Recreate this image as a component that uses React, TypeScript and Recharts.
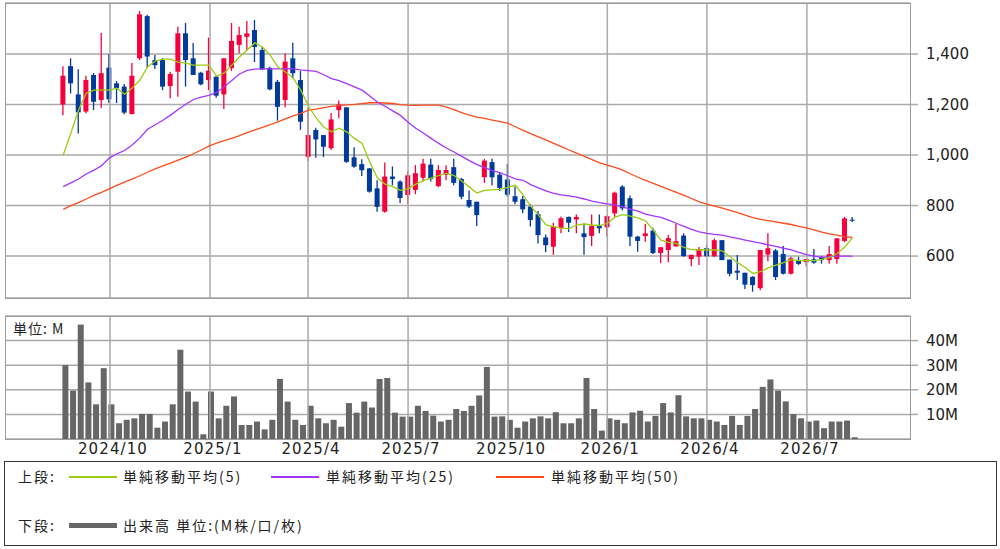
import React from 'react';
import {
  ComposedChart,
  Bar,
  Line,
  XAxis,
  YAxis,
  CartesianGrid,
  ReferenceLine,
} from 'recharts';

// weekly candles, oldest first (index 0 = first week shown)
const opens = [
  1200, 1352, 1240, 1172, 1317, 1218, 1346, 1284, 1271, 1162,
  1383, 1550, 1376, 1376, 1273, 1330, 1482, 1383, 1326, 1297,
  1310, 1240, 1344, 1436, 1468, 1495, 1416, 1345, 1290, 1218,
  1383, 1297, 993, 1099, 1079, 1027, 1178, 1189, 991, 964,
  947, 868, 776, 915, 895, 842, 862, 910, 962, 877,
  922, 952, 905, 822, 815, 912, 972, 922, 903, 837,
  825, 796, 766, 674, 637, 710, 755, 745, 690, 680,
  720, 714, 769, 875, 829, 677, 679, 701, 612, 624,
  638, 681, 588, 598, 631, 599, 663, 586, 542, 534,
  518, 473, 606, 622, 608, 530, 585, 576, 587, 596,
  584, 588, 660, 744,
];
const highs = [
  1352, 1383, 1340, 1314, 1325, 1483, 1400, 1293, 1281, 1364,
  1570, 1555, 1396, 1384, 1330, 1508, 1523, 1444, 1330, 1465,
  1313, 1383, 1523, 1508, 1531, 1535, 1428, 1350, 1297, 1403,
  1445, 1333, 1186, 1108, 1080, 1166, 1216, 1189, 1031, 983,
  949, 900, 970, 955, 900, 935, 960, 985, 985, 960,
  960, 985, 910, 860, 815, 985, 985, 930, 965, 875,
  838, 805, 778, 685, 732, 757, 757, 765, 730, 765,
  765, 762, 855, 880, 840, 680, 727, 712, 635, 683,
  727, 690, 605, 636, 645, 670, 663, 586, 604, 534,
  520, 624, 690, 628, 640, 597, 597, 588, 628, 600,
  640, 672, 755, 755,
];
const lows = [
  1158, 1244, 1085, 1165, 1178, 1186, 1206, 1206, 1162, 1162,
  1376, 1345, 1341, 1257, 1225, 1231, 1271, 1317, 1276, 1257,
  1227, 1182, 1333, 1403, 1416, 1368, 1337, 1257, 1136, 1189,
  1304, 1100, 976, 989, 992, 1020, 1146, 969, 950, 917,
  851, 775, 772, 880, 810, 805, 845, 895, 895, 873,
  900, 880, 825, 790, 719, 890, 880, 858, 835, 805,
  770, 717, 650, 615, 605, 690, 695, 690, 605, 640,
  690, 677, 755, 780, 640, 617, 657, 608, 572, 576,
  638, 597, 560, 565, 597, 597, 584, 520, 505, 470,
  459, 465, 580, 505, 527, 527, 565, 560, 570, 570,
  570, 570, 655, 735,
];
const closes = [
  1314, 1284, 1169, 1297, 1211, 1324, 1221, 1264, 1168, 1314,
  1557, 1390, 1356, 1271, 1321, 1482, 1376, 1317, 1280, 1334,
  1235, 1383, 1452, 1475, 1482, 1428, 1339, 1260, 1191, 1370,
  1324, 1132, 1079, 1062, 1033, 1141, 1200, 973, 954, 940,
  855, 795, 915, 905, 830, 920, 928, 966, 905, 941,
  941, 890, 835, 796, 762, 978, 912, 870, 843, 815,
  785, 743, 683, 643, 718, 750, 732, 755, 675, 720,
  710, 758, 851, 789, 677, 660, 690, 612, 635, 671,
  659, 600, 605, 628, 599, 663, 584, 530, 534, 487,
  485, 624, 631, 517, 530, 591, 569, 588, 574, 584,
  608, 670, 749, 743,
];
// volume in millions of shares
const volumes = [
  30, 19.7, 46.5, 23, 14.1, 28.8, 14.1, 6.4, 7.8, 8.4,
  10.2, 10.2, 4.6, 7.1, 14.1, 36.3, 19.3, 15.2, 1.9, 19.3,
  8.4, 13.5, 17.3, 5.7, 5.7, 7.1, 3.9, 7.8, 24.4, 15.2,
  7.8, 5.7, 13.5, 8.4, 6.4, 7.8, 5, 14.6, 10.7, 15.2,
  12.8, 24.4, 24.8, 10.7, 9.1, 9.1, 13.5, 11.4, 9.5, 7.1,
  7.8, 12.2, 11.4, 13.5, 17.7, 29.3, 9.1, 9.2, 7.8, 4.6,
  7.1, 8.4, 9.2, 8.4, 10.9, 6.4, 6.4, 8.4, 24.8, 12.2,
  3.4, 8.4, 7.8, 6.4, 10.8, 11.5, 7.1, 9.4, 14.6, 10.8,
  17.8, 9.2, 8.4, 8.4, 7.8, 7.1, 5.7, 9.4, 5.7, 9.4,
  12.2, 21.2, 24.2, 19.7, 15.3, 10.1, 8.4, 7.1, 7.5, 4.4,
  7.1, 7.1, 7.5, 0.7,
];
const ma5 = [
  1000, 1087, 1178, 1245, 1257, 1257, 1257, 1265, 1241, 1265,
  1297, 1349, 1372, 1380, 1380, 1368, 1364, 1356, 1356, 1356,
  1313, 1325, 1356, 1388, 1416, 1444, 1428, 1396, 1349, 1329,
  1305, 1257, 1194, 1147, 1111, 1092, 1106, 1092, 1066, 1046,
  972, 909, 885, 875, 860, 866, 885, 899, 909, 919,
  927, 919, 897, 873, 850, 860, 862, 864, 872, 880,
  842, 798, 763, 723, 717, 711, 709, 723, 727, 723,
  721, 729, 754, 764, 758, 751, 739, 703, 663, 654,
  650, 634, 626, 624, 624, 624, 621, 598, 574, 555,
  531, 538, 553, 564, 574, 586, 582, 582, 582, 587,
  594, 610, 636, 673,
];
const ma25 = [
  875, 890, 905, 925, 940, 958, 988, 1005, 1018, 1040,
  1068, 1102, 1120, 1138, 1158, 1180, 1201, 1220, 1229, 1236,
  1248, 1270, 1295, 1321, 1335, 1340, 1341, 1341, 1341, 1342,
  1341, 1337, 1334, 1331, 1318, 1303, 1295, 1283, 1270, 1257,
  1234, 1210, 1193, 1175, 1157, 1130, 1106, 1087, 1066, 1046,
  1028, 1012, 995, 978, 962, 950, 938, 930, 918, 906,
  900, 883, 870, 858, 848, 842, 838, 833, 826, 818,
  812, 807, 803, 795, 786, 778, 766, 759, 753, 742,
  730, 718, 706, 696, 690, 686, 683, 676, 670, 663,
  657, 651, 644, 638, 631, 625, 615, 606, 600, 595,
  598, 600, 600, 600,
];
const ma50 = [
  785, 800, 812, 826, 840, 852, 866, 880, 893, 905,
  918, 932, 945, 957, 968, 980, 992, 1005, 1020, 1035,
  1047, 1057, 1066, 1077, 1089, 1100, 1110, 1120, 1131, 1143,
  1155, 1165, 1178, 1182, 1188, 1193, 1196, 1199, 1201, 1204,
  1207, 1207, 1206, 1204, 1200, 1198, 1197, 1198, 1198, 1198,
  1190, 1180, 1168, 1158, 1150, 1145, 1138, 1132, 1126, 1112,
  1098, 1085, 1072, 1060, 1046, 1033, 1020, 1008, 995, 982,
  969, 960, 951, 940, 926, 912, 900, 888, 876, 864,
  852, 840, 828, 815, 806, 798, 790, 781, 772, 762,
  752, 745, 740, 735, 730, 725, 718, 712, 704, 695,
  688, 683, 676, 674,
];

// quarter starts, expressed as fractional week index
const quarterPos = [6.1, 19.15, 31.95, 45, 58.05, 71, 84, 97.05];
const quarterLabels = ['2024/10', '2025/1', '2025/4', '2025/7', '2025/10', '2026/1', '2026/4', '2026/7'];
const priceTicks = [600, 800, 1000, 1200, 1400];
const volumeTicks = [10, 20, 30, 40];

const rows = opens.map((o, i) => ({
  i,
  open: o,
  high: highs[i],
  low: lows[i],
  close: closes[i],
  range: [lows[i], highs[i]],
  vol: volumes[i],
  ma5: ma5[i],
  ma25: ma25[i],
  ma50: ma50[i],
}));

const RED = '#f5003d';
const BLUE = '#003a9a';
const GRID = '#aaaaaa';
const X_DOMAIN: [number, number] = [-7.6, 110.5];
const NUM_FONT = '"DejaVu Sans", Verdana, sans-serif';
const JP_FONT = '"Noto Sans CJK JP", "DejaVu Sans", sans-serif';

function Candle(props: any) {
  const { x, y, width, height, payload } = props;
  if (!payload) return null;
  const { open, close, high, low } = payload;
  const top = Math.min(y, y + height);
  const h = Math.abs(height);
  const k = high === low ? 0 : h / (high - low);
  const yOf = (v: number) => top + (high - v) * k;
  const color = close > open ? RED : BLUE;
  const cx = x + width / 2;
  const bodyTop = yOf(Math.max(open, close));
  const bodyH = Math.max(1, Math.abs(yOf(open) - yOf(close)));
  return (
    <g>
      <line x1={cx} x2={cx} y1={top} y2={top + h} stroke={color} strokeWidth={1.3} />
      <rect x={x} y={bodyTop} width={width} height={bodyH} fill={color} />
    </g>
  );
}

// volume bar sits a little to the right of its candle
function VolBar(props: any) {
  const { x, y, width, height } = props;
  const top = Math.min(y, y + height);
  return <rect x={x + 2} y={top} width={width} height={Math.abs(height)} fill="#666666" />;
}

const frame = (left: number, top: number, w: number, h: number): React.CSSProperties => ({
  position: 'absolute',
  left,
  top,
  width: w,
  height: h,
  border: '1.5px solid #9c9c9c',
  boxSizing: 'border-box',
  pointerEvents: 'none',
});

const legendText: React.CSSProperties = { position: 'absolute', letterSpacing: 2, whiteSpace: 'nowrap' };

export default function App() {
  const yTick = { fill: '#222', fontSize: 15, fontFamily: NUM_FONT };
  return (
    <div style={{ position: 'absolute', left: 0, top: 0, width: 1000, height: 549, background: '#fff' }}>
      {/* price panel */}
      <div style={{ position: 'absolute', left: 0, top: 0 }}>
        <ComposedChart width={1000} height={300} data={rows} margin={{ top: 3, right: 0, bottom: 2, left: 5 }}>
          <CartesianGrid vertical={false} stroke={GRID} strokeWidth={1.5} />
          <XAxis type="number" dataKey="i" domain={X_DOMAIN} allowDataOverflow hide />
          <YAxis
            orientation="right"
            width={90}
            domain={[434, 1602]}
            allowDataOverflow
            ticks={priceTicks}
            tickFormatter={(v: number) => v.toLocaleString('en-US')}
            tick={yTick}
            tickSize={8}
            tickMargin={8}
            tickLine={{ stroke: GRID, strokeWidth: 1.5 }}
            axisLine={false}
          />
          {quarterPos.map((q) => (
            <ReferenceLine key={q} x={q} stroke={GRID} strokeWidth={1.5} />
          ))}
          <Bar dataKey="range" barSize={5} shape={Candle} isAnimationActive={false} />
          <Line dataKey="ma50" stroke="#ff4a1c" strokeWidth={1.3} dot={false} isAnimationActive={false} />
          <Line dataKey="ma25" stroke="#a236ff" strokeWidth={1.3} dot={false} isAnimationActive={false} />
          <Line dataKey="ma5" stroke="#9ccc14" strokeWidth={1.3} dot={false} isAnimationActive={false} />
        </ComposedChart>
      </div>
      <div style={frame(5, 3, 906, 296)} />

      {/* volume panel */}
      <div style={{ position: 'absolute', left: 0, top: 300 }}>
        <ComposedChart width={1000} height={162} data={rows} margin={{ top: 16, right: 0, bottom: 0, left: 5 }}>
          <CartesianGrid vertical={false} stroke={GRID} strokeWidth={1.5} />
          <XAxis
            type="number"
            dataKey="i"
            domain={X_DOMAIN}
            allowDataOverflow
            ticks={quarterPos}
            tickFormatter={(v: number) => quarterLabels[quarterPos.indexOf(v)] ?? ''}
            tick={{ fill: '#222', fontSize: 15, fontFamily: NUM_FONT, letterSpacing: 1.1, dx: 3 }}
            tickSize={0}
            tickMargin={4}
            axisLine={false}
            tickLine={false}
            height={23}
          />
          <YAxis
            orientation="right"
            width={90}
            domain={[0, 50]}
            allowDataOverflow
            ticks={volumeTicks}
            tickFormatter={(v: number) => `${v}M`}
            tick={yTick}
            tickSize={8}
            tickMargin={8}
            tickLine={{ stroke: GRID, strokeWidth: 1.5 }}
            axisLine={false}
          />
          {quarterPos.map((q) => (
            <ReferenceLine key={q} x={q} stroke={GRID} strokeWidth={1.5} />
          ))}
          <Bar dataKey="vol" barSize={6} shape={VolBar} isAnimationActive={false} />
        </ComposedChart>
      </div>
      <div style={frame(5, 316, 906, 124)} />
      <div
        style={{
          position: 'absolute',
          left: 13,
          top: 318,
          fontFamily: JP_FONT,
          fontSize: 14,
          letterSpacing: 1,
          color: '#222',
        }}
      >
        単位: M
      </div>

      {/* legend */}
      <div
        style={{
          position: 'absolute',
          left: 4,
          top: 461,
          width: 993,
          height: 85,
          border: '1.5px solid #333',
          boxSizing: 'border-box',
          fontFamily: JP_FONT,
          fontSize: 14,
          color: '#222',
        }}
      >
        <div style={{ ...legendText, left: 13, top: 4 }}>上段:</div>
        <div style={{ position: 'absolute', left: 64, top: 14, width: 48, height: 2, background: '#9ccc14' }} />
        <div style={{ ...legendText, left: 118, top: 4 }}>単純移動平均(5)</div>
        <div style={{ position: 'absolute', left: 266, top: 14, width: 48, height: 2, background: '#a236ff' }} />
        <div style={{ ...legendText, left: 321, top: 4 }}>単純移動平均(25)</div>
        <div style={{ position: 'absolute', left: 491, top: 14, width: 48, height: 2, background: '#ff4a1c' }} />
        <div style={{ ...legendText, left: 546, top: 4 }}>単純移動平均(50)</div>
        <div style={{ ...legendText, left: 13, top: 53 }}>下段:</div>
        <div style={{ position: 'absolute', left: 64, top: 61, width: 48, height: 5, background: '#666666' }} />
        <div style={{ ...legendText, left: 118, top: 53 }}>出来高 単位:(M株/口/枚)</div>
      </div>
    </div>
  );
}
